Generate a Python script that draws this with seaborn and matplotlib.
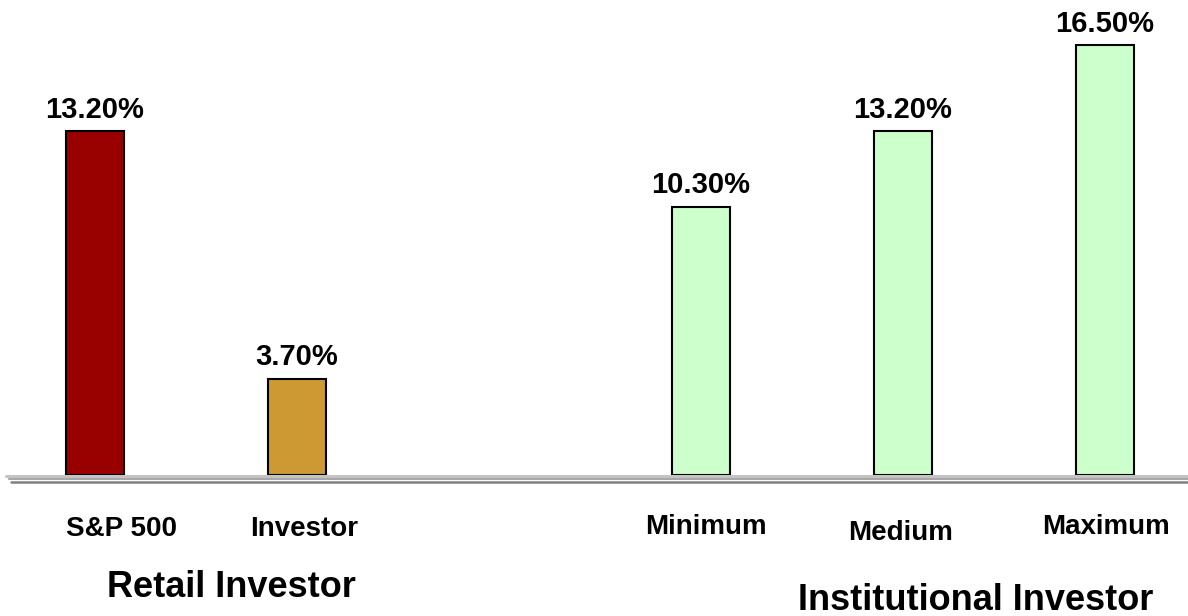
import pandas as pd
import seaborn as sns
import matplotlib.pyplot as plt
from matplotlib.lines import Line2D

# data
categories = ["S&P 500", "Investor", "Minimum", "Medium", "Maximum"]
returns = [13.2, 3.7, 10.3, 13.2, 16.5]
groups = ["Retail Investor", "Retail Investor",
          "Institutional Investor", "Institutional Investor", "Institutional Investor"]
group_names = ["Retail Investor", "Institutional Investor"]
bar_colors = ["#990000", "#CC9933", "#CCFFCC", "#CCFFCC", "#CCFFCC"]

# the empty slot between the two groups
order = ["S&P 500", "Investor", " ", "Minimum", "Medium", "Maximum"]

df = pd.DataFrame({"category": categories, "ret": returns, "group": groups})

sns.set_theme(style="white")
plt.rcParams["font.family"] = ["Liberation Sans", "DejaVu Sans"]
plt.rcParams["font.weight"] = "bold"
plt.rcParams["text.color"] = "black"

W, H = 1188, 616
fig = plt.figure(figsize=(W / 100, H / 100), dpi=100)
ax = fig.add_axes([5 / W, (H - 475) / H, 1183 / W, 469 / H])

# floor lines under the bars
fig.add_artist(Line2D([6, W], [H - 476, H - 476], transform=None, color="#c4c4c4", lw=2.2))
fig.add_artist(Line2D([9, W], [H - 479, H - 479], transform=None, color="#a8a8a8", lw=1.5))
fig.add_artist(Line2D([11, W], [H - 482, H - 482], transform=None, color="#808080", lw=1.8))

sns.barplot(data=df, x="category", y="ret", hue="category", order=order,
            palette=dict(zip(categories, bar_colors)), saturation=1, width=0.287,
            edgecolor="black", linewidth=1.5, legend=False, ax=ax, zorder=3)

ax.set_xlim((5 - 95) / 202, (W - 95) / 202)
ax.set_ylim(0, 18)
ax.set_axis_off()

# value labels above the bars
for cat, val in zip(categories, returns):
    ax.annotate(f"{val:.2f}%", (order.index(cat), val), xytext=(0, 9.5),
                textcoords="offset points", ha="center", va="baseline",
                fontsize=21, fontweight="bold")

# category labels below the floor (small offsets as in the original)
label_dx = [0.13, 0.035, 0.025, -0.01, 0.005]
label_y = [H - 536, H - 536, H - 534, H - 540, H - 534]
for cat, dx, y in zip(categories, label_dx, label_y):
    ax.annotate(cat, (order.index(cat) + dx, y), xycoords=("data", "figure pixels"),
                ha="center", va="baseline", fontsize=20, fontweight="bold")

# group labels
group_x = [0.675, 4.36]
group_y = [H - 597, H - 610]
for name, gx, gy in zip(group_names, group_x, group_y):
    ax.annotate(name, (gx, gy), xycoords=("data", "figure pixels"),
                ha="center", va="baseline", fontsize=26, fontweight="bold")

fig.savefig("out.png", dpi=100)
